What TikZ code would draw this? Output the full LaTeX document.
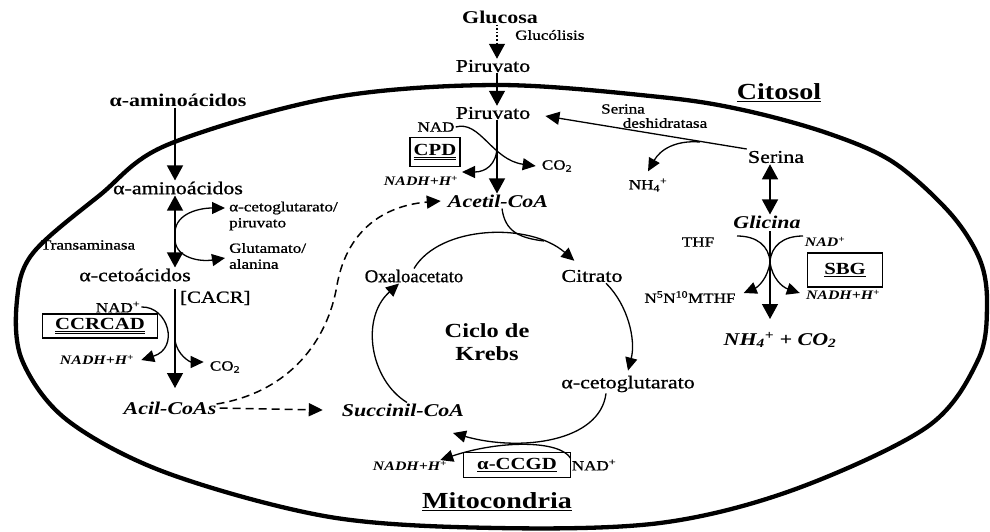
\documentclass[tikz,border=0pt]{standalone}
\usepackage{graphicx}
\usepackage{fontspec}
\setmainfont{Liberation Serif}[FakeStretch=1.22]
\usetikzlibrary{arrows.meta}
\begin{document}
\begin{tikzpicture}[x=1pt,y=-1pt,
 every node/.style={inner sep=1pt},
 lbl/.style={font=\fontsize{18}{20}\selectfont\addfontfeature{FakeBold=1}},
 lbli/.style={font=\fontsize{18}{20}\selectfont\bfseries\itshape},
 lblb/.style={font=\fontsize{18}{20}\selectfont\bfseries},
 sm/.style={font=\fontsize{14}{16}\selectfont\addfontfeature{FakeBold=1}},
 smi/.style={font=\fontsize{13}{16}\selectfont\bfseries\itshape},
 enz/.style={draw, line width=1.2pt, inner sep=2pt, font=\fontsize{17}{19}\selectfont\bfseries},
 ttl/.style={font=\fontsize{23}{26}\selectfont\bfseries},
 ln/.style={line width=1.3pt},
 bigarr/.style={ln, -{Triangle[length=15pt,width=16pt]}},
 arr/.style={ln, -{Triangle[length=13pt,width=12pt]}},
 midarr/.style={ln, -{Triangle[length=14pt,width=13pt]}},
 dblarr/.style={ln, {Triangle[length=15pt,width=16pt]}-{Triangle[length=15pt,width=16pt]}},
 dsharr/.style={line width=1.5pt, dash pattern=on 8pt off 5pt, -{Triangle[length=14pt,width=13pt]}},
]
\useasboundingbox (0,0) rectangle (990,531);
% membrane
\draw[line width=4.3pt] plot[smooth cycle, tension=0.55] coordinates {(497,85) (660,97) (743,110) (827,133) (893,162) (950,213) (980,260) (987,305) (978,360) (927,427) (793,490) (660,523) (497,528) (330,517) (167,473) (67,420) (22,360) (17,300) (33,253) (100,195) (167,145) (330,98)};

% top
\node[lblb] (glu) at (500,17) {Glucosa};
\node[sm, anchor=west] (glyc) at (514,35) {Glucólisis};
\node[lbl] (pyr1) at (493,66) {Piruvato};
\node[lbl] (pyr2) at (493,113) {Piruvato};
\node[ttl] (cyt) at (779,93) {\underline{Citosol}};

% left
\node[lblb] (aa1) at (178,100) {α-aminoácidos};
\node[lbl] (aa2) at (178,188) {α-aminoácidos};
\node[sm, anchor=west, align=left] (akgp) at (228,216) {α-cetoglutarato/\\piruvato};
\node[sm, anchor=west, align=left] (glal) at (228,256) {Glutamato/\\alanina};
\node[sm] (trans) at (88,245) {Transaminasa};
\node[lbl] (keto) at (135,275) {α-cetoácidos};
\node[lbl, anchor=west, font=\fontsize{17}{19}\selectfont\addfontfeature{FakeBold=1}] (cacr) at (179,298) {[CACR]};
\node[sm] (nad2) at (118,307) {NAD\textsuperscript{+}};
\node[enz, minimum width=115pt, minimum height=24pt] (ccrcad) at (100,326) {\underline{\underline{CCRCAD}}};
\node[smi] (nadh2) at (97,360) {NADH+H\textsuperscript{+}};
\node[sm] (co2b) at (225,367) {CO\textsubscript{2}};
\node[lbli] (acil) at (170,408) {Acil-CoAs};

% pyruvate dehydrogenase
\node[sm] (nad1) at (436,127) {NAD};
\node[enz, minimum width=50pt, minimum height=29pt] (cpd) at (435,152) {\underline{\underline{CPD}}};
\node[smi] (nadh1) at (421,181) {NADH+H\textsuperscript{+}};
\node[sm] (co2a) at (557,166) {CO\textsubscript{2}};
\node[lbli] (acet) at (498,201) {Acetil-CoA};

% right
\node[sm] (sdh1) at (623,109) {Serina};
\node[sm] (sdh2) at (665,123) {deshidratasa};
\node[lbl] (ser) at (776,157) {Serina};
\node[sm] (nh4a) at (648,185) {NH\textsubscript{4}\textsuperscript{+}};
\node[lbli] (gly) at (767,222) {Glicina};
\node[sm] (thf) at (698,242) {THF};
\node[smi] (nad4) at (825,242) {NAD\textsuperscript{+}};
\node[enz, minimum width=75pt, minimum height=34pt] (sbg) at (845,270) {\underline{SBG}};
\node[smi] (nadh4) at (843,295) {NADH+H\textsuperscript{+}};
\node[sm] (mthf) at (690,297) {N\textsuperscript{5}N\textsuperscript{10}MTHF};
\node[lbli] (nhco) at (780,340) {NH\textsubscript{4}\textsuperscript{+} + CO\textsubscript{2}};

% Krebs
\node[lbl] (oxa) at (414,276) {\scalebox{0.85}[1]{Oxaloacetato}};
\node[lbl] (citr) at (592,276) {Citrato};
\node[lblb, align=center, font=\fontsize{20}{23}\selectfont\bfseries] (krebs) at (487,342) {Ciclo de\\Krebs};
\node[lbl] (akg) at (628,384) {α-cetoglutarato};
\node[lbli] (succ) at (403,410) {Succinil-CoA};
\node[smi] (nadh3) at (410,466) {NADH+H\textsuperscript{+}};
\node[enz, minimum width=107pt, minimum height=25pt, inner sep=1pt] (ccgd) at (517,465) {\underline{α-CCGD}};
\node[sm] (nad3) at (594,465) {NAD\textsuperscript{+}};
\node[ttl] (mito) at (497,502) {\underline{Mitocondria}};

% coordinates
\coordinate (m1) at (497,146);
\coordinate (t1) at (462,172);
\coordinate (j1) at (544,241);
\coordinate (b1) at (175,232);
\coordinate (b2) at (175,240);
\coordinate (c0) at (175,289);
\coordinate (c1) at (175,388);
\coordinate (c2) at (175,340);
\coordinate (s1) at (700,142);
\coordinate (gl) at (737,236);
\coordinate (gr) at (803,236);
\coordinate (gm) at (770,262);
\coordinate (g0) at (770,231);
\coordinate (g1) at (770,319);
\coordinate (t2) at (453,433);
\coordinate (d1) at (337,285);

% connectors: top
\draw[bigarr, dash pattern=on 1.6pt off 2pt] ([xshift=-3pt]glu.south) -- ([xshift=4pt]pyr1.north);
\draw[bigarr] ([xshift=4pt]pyr1.south) -- ([xshift=4pt]pyr2.north);
\draw[bigarr] ([xshift=4pt]pyr2.south) -- ([xshift=-1pt]acet.north);
\draw[arr] (nad1.east) .. controls (480,120) and (492,160) .. ([xshift=-5pt]co2a.west);
\draw[arr] (m1) .. controls (497,165) and (485,172) .. (t1);
\draw[midarr] ([yshift=8pt]ser.west) -- ([xshift=14pt,yshift=-3pt]pyr2.east);
\draw[arr] (s1) .. controls (675,140) and (660,150) .. ([yshift=6pt]nh4a.north);

% left
\draw[bigarr] ([xshift=-3pt]aa1.south) -- ([xshift=-3pt]aa2.north);
\draw[dblarr] ([xshift=-3pt]aa2.south) -- ([xshift=40pt]keto.north);
\draw[arr] (b1) .. controls (176,213) and (200,208) .. ([xshift=-3pt,yshift=8pt]akgp.west);
\draw[arr] (b2) .. controls (176,258) and (200,262) .. ([xshift=-3pt,yshift=-2pt]glal.west);
\draw[bigarr] (c0) -- (c1);
\draw[arr] (nad2.east) .. controls (168,306) and (180,348) .. ([xshift=6pt]nadh2.east);
\draw[arr] (c2) .. controls (177,355) and (190,362) .. ([xshift=-5pt,yshift=5pt]co2b.west);
\draw[dsharr] ([xshift=2pt]acil.east) -- ([xshift=-18pt]succ.west);
\draw[dsharr] ([xshift=-1pt,yshift=4pt]acil.east) .. controls (290,392) and (328,340) .. (d1) .. controls (348,225) and (390,205) .. ([xshift=-6pt]acet.west);

% Krebs cycle
\draw[arr] (oxa.north) .. controls (440,225) and (530,222) .. ([xshift=14pt,yshift=8pt]citr.north west);
\draw[ln] ([xshift=4pt]acet.south) .. controls (505,232) and (520,238) .. (j1);
\draw[arr] ([xshift=14pt]citr.south) .. controls (628,305) and (636,340) .. ([yshift=4pt]akg.north);
\draw[arr] ([xshift=-22pt]akg.south) .. controls (600,442) and (520,452) .. (t2);
\draw[arr] (nad3.north west) .. controls (560,440) and (500,440) .. ([xshift=-8pt]nadh3.north east);
\draw[arr] ([xshift=4pt]succ.north) .. controls (370,380) and (360,318) .. ([xshift=-15pt]oxa.south);

% glycine cleavage
\draw[dblarr] ([xshift=-6pt]ser.south) -- ([xshift=3pt]gly.north);
\draw[bigarr] (g0) -- (g1);
\draw[ln] (gl) .. controls (757,236) and (769,246) .. (gm);
\draw[ln] (gr) .. controls (783,236) and (771,246) .. (gm);
\draw[arr] (gm) .. controls (768,278) and (758,287) .. ([xshift=7pt,yshift=4pt]mthf.east);
\draw[arr] (gm) .. controls (772,278) and (782,287) .. ([xshift=-5pt,yshift=2pt]nadh4.west);
\end{tikzpicture}
\end{document}
